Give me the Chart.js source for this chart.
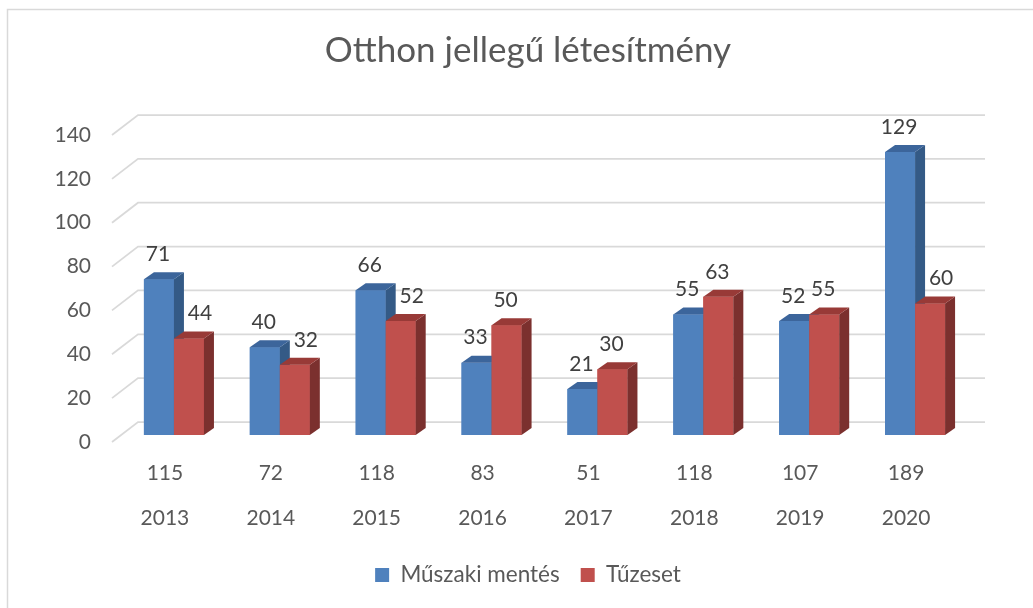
<!DOCTYPE html>
<html>
<head>
<meta charset="utf-8">
<script src="https://cdn.jsdelivr.net/npm/chart.js@4.4.1/dist/chart.umd.min.js"></script>
<style>
html,body{margin:0;padding:0;background:#ffffff;}
canvas{display:block;}
</style>
</head>
<body>
<canvas id="c" width="1033" height="608"></canvas>
<script>
// ---- data ----
const years = ['2013','2014','2015','2016','2017','2018','2019','2020'];
const totals = [115, 72, 118, 83, 51, 118, 107, 189];
const muszakiMentes = [71, 40, 66, 33, 21, 55, 52, 129];
const tuzeset = [44, 32, 52, 50, 30, 63, 55, 60];
const yTickValues = [0, 20, 40, 60, 80, 100, 120, 140];
const seriesNames = ['Műszaki mentés', 'Tűzeset'];
const chartTitle = 'Otthon jellegű létesítmény';

// ---- style ----
const FONT = 'Lato, "Open Sans", sans-serif';
const TEXT = '#595959';
const LABEL_TEXT = '#404040';
const GRID = '#d9d9d9';
const BAR_SHIFT = {x: 9, y: -7};
const BAR_DEPTH = {x: 10, y: -7};
const WALL_DEPTH = {x: 26, y: -20};
const FACE = [
  {front: '#4f81bd', side: '#345a86', top: '#3c659b'},
  {front: '#c0504d', side: '#7b302e', top: '#983a37'}
];

const frame = {
  id: 'frame',
  beforeDraw(chart) {
    const ctx = chart.ctx;
    ctx.save();
    ctx.fillStyle = '#ffffff';
    ctx.fillRect(0, 0, chart.width, chart.height);
    ctx.strokeStyle = '#d9d9d9';
    ctx.lineWidth = 1.5;
    ctx.strokeRect(7.5, 9.5, chart.width + 20, chart.height + 20);
    ctx.restore();
  }
};

const threeD = {
  id: 'threeD',
  beforeDatasetsDraw(chart) {
    const ctx = chart.ctx;
    const a = chart.chartArea;
    const ys = chart.scales.y;
    ctx.save();
    ctx.strokeStyle = GRID;
    ctx.lineWidth = 1.75;
    yTickValues.forEach(v => {
      const y = ys.getPixelForValue(v);
      ctx.beginPath();
      ctx.moveTo(a.left, y);
      ctx.lineTo(a.left + WALL_DEPTH.x, y + WALL_DEPTH.y);
      ctx.lineTo(a.right + WALL_DEPTH.x, y + WALL_DEPTH.y);
      ctx.stroke();
    });
    ctx.restore();
    ctx.save();
    ctx.translate(BAR_SHIFT.x, BAR_SHIFT.y);
  },
  afterDatasetsDraw(chart) {
    const ctx = chart.ctx;
    // redraw in dataset order: front, side, top
    chart.data.datasets.forEach((ds, d) => {
      const meta = chart.getDatasetMeta(d);
      meta.data.forEach(el => {
        el.draw(ctx);
        const p = el.getProps(['x', 'y', 'base', 'width'], true);
        const l = p.x - p.width / 2, r = p.x + p.width / 2;
        ctx.fillStyle = FACE[d].side;
        ctx.beginPath();
        ctx.moveTo(r, p.y);
        ctx.lineTo(r + BAR_DEPTH.x, p.y + BAR_DEPTH.y);
        ctx.lineTo(r + BAR_DEPTH.x, p.base + BAR_DEPTH.y);
        ctx.lineTo(r, p.base);
        ctx.closePath();
        ctx.fill();
        ctx.fillStyle = FACE[d].top;
        ctx.beginPath();
        ctx.moveTo(l, p.y);
        ctx.lineTo(l + BAR_DEPTH.x, p.y + BAR_DEPTH.y);
        ctx.lineTo(r + BAR_DEPTH.x, p.y + BAR_DEPTH.y);
        ctx.lineTo(r, p.y);
        ctx.closePath();
        ctx.fill();
      });
    });
    ctx.restore();
    // data labels
    ctx.save();
    ctx.font = '21px ' + FONT;
    ctx.fillStyle = LABEL_TEXT;
    ctx.textAlign = 'center';
    ctx.textBaseline = 'middle';
    chart.data.datasets.forEach((ds, d) => {
      const meta = chart.getDatasetMeta(d);
      meta.data.forEach((el, i) => {
        const p = el.getProps(['x', 'y'], true);
        let off = -1;
        if (d === 1 && chart.data.datasets[0].data[i] > ds.data[i]) off = 11;
        ctx.fillText(String(ds.data[i]), p.x + BAR_SHIFT.x + off, p.y + BAR_SHIFT.y - 25);
      });
    });
    ctx.restore();
  }
};

new Chart(document.getElementById('c'), {
  type: 'bar',
  data: {
    labels: years.map((y, i) => [String(totals[i]), y]),
    datasets: [
      {label: seriesNames[0], data: muszakiMentes, backgroundColor: FACE[0].front, borderWidth: 0, clip: false},
      {label: seriesNames[1], data: tuzeset, backgroundColor: FACE[1].front, borderWidth: 0, clip: false}
    ]
  },
  options: {
    responsive: false,
    animation: false,
    events: [],
    layout: {padding: {left: 40, right: 17, top: 0, bottom: 11.75}},
    datasets: {bar: {barPercentage: 1, categoryPercentage: 0.567}},
    scales: {
      x: {
        offset: true,
        grid: {display: false, drawTicks: false},
        border: {display: false},
        ticks: {color: TEXT, font: {family: FONT, size: 21, lineHeight: 2.143}, padding: 8.5, maxRotation: 0, autoSkip: false},
        afterFit(s) { s.height = 100.75; }
      },
      y: {
        min: 0, max: 140,
        grid: {display: false, drawTicks: false},
        border: {display: false},
        ticks: {stepSize: 20, color: TEXT, font: {family: FONT, size: 21}, padding: 21},
        afterFit(s) { s.width = 72; }
      },
      yRightSpace: {
        type: 'linear',
        position: 'right',
        display: true,
        grid: {display: false, drawTicks: false},
        border: {display: false},
        ticks: {display: false},
        afterFit(s) { s.width = 57; }
      }
    },
    plugins: {
      title: {
        display: true,
        text: chartTitle,
        color: TEXT,
        font: {family: FONT, size: 35, weight: 'normal', lineHeight: 1.2},
        padding: {top: 30, bottom: 63}
      },
      legend: {
        position: 'bottom',
        labels: {
          color: TEXT,
          font: {family: FONT, size: 22.5},
          boxWidth: 14,
          boxHeight: 14,
          padding: 21,
          sort: (a, b) => a.datasetIndex - b.datasetIndex
        }
      },
      tooltip: {enabled: false}
    }
  },
  plugins: [frame, threeD]
});
</script>
</body>
</html>
